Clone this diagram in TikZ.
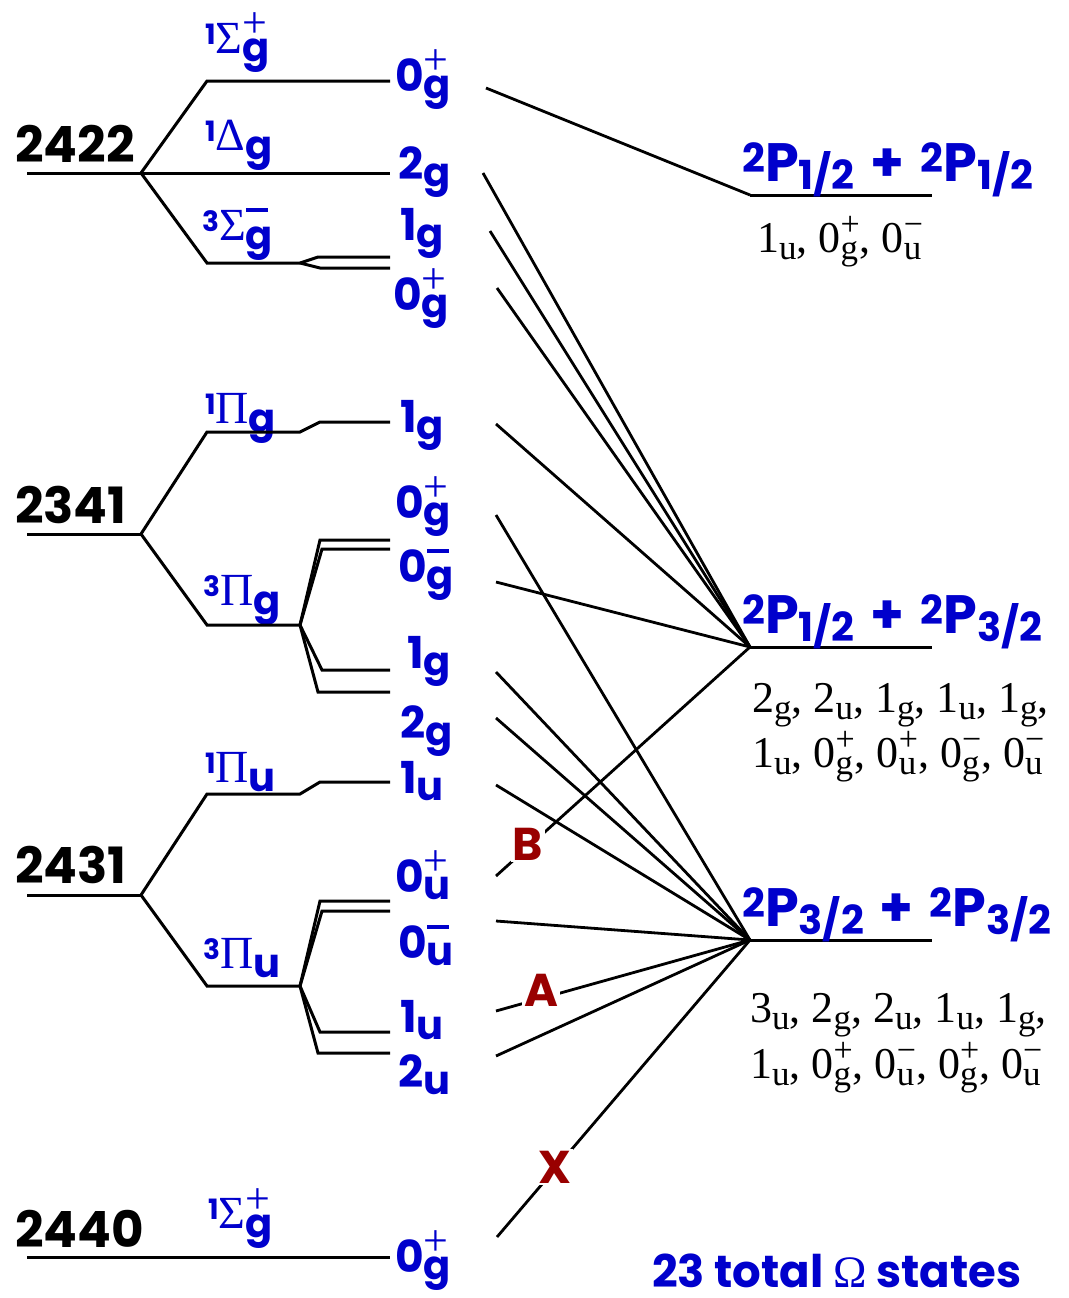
\documentclass[tikz,border=0pt]{standalone}
\usepackage{fontspec}
\setmainfont{Liberation Serif}
\newfontfamily\lbl{Poppins}
\definecolor{omblue}{RGB}{0,0,204}
\definecolor{tagred}{RGB}{153,0,0}

% stacked subscript/superscript: #1 sub, #2 sup, #3 sub drop, #4 sup raise
\newcommand\SbSp[4]{%
  \begingroup
  \setbox0=\hbox{\raisebox{-#3}{#1}}%
  \setbox2=\hbox{\raisebox{#4}{#2}}%
  \ifdim\wd0>\wd2 \dimen0=\wd0 \else \dimen0=\wd2 \fi
  \rlap{\copy0}\rlap{\copy2}\hskip\dimen0
  \endgroup}

% reflection signs for the blue labels
\newcommand\OmPlus{\raisebox{17pt}{\normalfont\fontsize{44}{44}\selectfont +}}
\newcommand\OmMinus{\raisebox{29pt}{\rule{22pt}{4.5pt}}}
\newcommand\TmPlus{\raisebox{15pt}{\normalfont\fontsize{44}{44}\selectfont +}}
\newcommand\TmMinus{\raisebox{28pt}{\rule{22pt}{4.5pt}}}
% Omega component: digit, parity, reflection sign
\newcommand\Om[3]{{\lbl\bfseries\fontsize{44}{48}\selectfont #1\SbSp{\fontsize{40}{40}\selectfont #2}{#3}{7pt}{0pt}}}
% molecular term: multiplicity, Greek symbol, parity, reflection sign
\newcommand\Term[4]{{\lbl\bfseries\fontsize{44}{48}\selectfont\raisebox{9pt}{\fontsize{28}{28}\selectfont #1}{\normalfont\fontsize{46}{46}\selectfont #2}\SbSp{\fontsize{40}{40}\selectfont #3}{#4}{9pt}{0pt}}}
% atomic fine-structure term 2P_j
\newcommand\Pst[1]{\raisebox{9pt}{\fontsize{40}{40}\selectfont 2}P\raisebox{-8pt}{\fontsize{40}{40}\selectfont #1}}
% serif list entries
\newcommand\LiPlus{\raisebox{17pt}{\fontsize{34}{34}\selectfont +}}
\newcommand\LiMinus{\raisebox{17pt}{\fontsize{34}{34}\selectfont −}}
\newcommand\Li[3]{#1\SbSp{\fontsize{35}{35}\selectfont #2}{#3}{7pt}{0pt}}

\tikzset{
  lvl/.style={line width=3pt},
  conn/.style={line width=2.8pt},
  num/.style={anchor=base west, inner sep=0pt, font=\lbl\bfseries\fontsize{50}{54}\selectfont},
  omlab/.style={anchor=base west, inner sep=0pt, text=omblue},
  plab/.style={anchor=base west, inner sep=0pt, text=omblue, font=\lbl\bfseries\fontsize{54}{58}\selectfont},
  lst/.style={anchor=base west, inner sep=0pt, font=\fontsize{44}{48}\selectfont},
  tag/.style={text=tagred, fill=white, inner sep=2pt, font=\lbl\bfseries\fontsize{46}{50}\selectfont},
}

\begin{document}
\begin{tikzpicture}[x=1pt,y=-1pt]
\useasboundingbox (0,0) rectangle (1068,1298);

% ---------- energy labels ----------
\node[num] (e2422) at (15,162) {2422};
\node[num] (e2341) at (15,523) {2341};
\node[num] (e2431) at (15,883) {2431};
\node[num] (e2440) at (15,1247) {2440};

% ---------- molecular terms ----------
\node[omlab] (t1) at (205,53)   {\Term{1}{Σ}{g}{\TmPlus}};
\node[omlab] (t2) at (205,150)  {\Term{1}{Δ}{g}{}};
\node[omlab] (t3) at (202,240)  {\Term{3}{Σ}{g}{\TmMinus}};
\node[omlab] (t4) at (205,423)  {\Term{1}{Π}{g}{}};
\node[omlab] (t5) at (203,605)  {\Term{3}{Π}{g}{}};
\node[omlab] (t6) at (205,782)  {\Term{1}{Π}{u}{}};
\node[omlab] (t7) at (203,968)  {\Term{3}{Π}{u}{}};
\node[omlab] (t8) at (208,1228) {\Term{1}{Σ}{g}{\TmPlus}};

% ---------- Omega components ----------
\node[omlab] (a1) at (395,91)   {\Om{0}{g}{\OmPlus}};
\node[omlab] (a2) at (398,179)  {\Om{2}{g}{}};
\node[omlab] (a3) at (400,240)  {\Om{1}{g}{}};
\node[omlab] (a4) at (393,310)  {\Om{0}{g}{\OmPlus}};
\node[omlab] (b1) at (400,432)  {\Om{1}{g}{}};
\node[omlab] (b2) at (395,518)  {\Om{0}{g}{\OmPlus}};
\node[omlab] (b3) at (398,582)  {\Om{0}{g}{\OmMinus}};
\node[omlab] (b4) at (407,668)  {\Om{1}{g}{}};
\node[omlab] (b5) at (400,738)  {\Om{2}{g}{}};
\node[omlab] (c1) at (400,793)  {\Om{1}{u}{}};
\node[omlab] (c2) at (395,892)  {\Om{0}{u}{\OmPlus}};
\node[omlab] (c3) at (398,958)  {\Om{0}{u}{\OmMinus}};
\node[omlab] (c4) at (400,1032) {\Om{1}{u}{}};
\node[omlab] (c5) at (398,1087) {\Om{2}{u}{}};
\node[omlab] (d1) at (395,1272) {\Om{0}{g}{\OmPlus}};

% ---------- correlation diagram branches ----------
% 2422
\draw[lvl] (27,173) -- (141,173);
\draw[lvl] (141,173) -- (207,81) -- (390,81);
\draw[lvl] (141,173) -- (390,173);
\draw[lvl] (141,173) -- (207,263) -- (300,263);
\draw[lvl] (300,263) -- (318,257) -- (390,257);
\draw[lvl] (300,263) -- (320,268) -- (390,268);
% 2341
\draw[lvl] (27,534) -- (141,534);
\draw[lvl] (141,534) -- (207,432) -- (300,432) -- (320,422) -- (390,422);
\draw[lvl] (141,534) -- (207,625) -- (300,625);
\draw[lvl] (300,625) -- (320,540) -- (390,540);
\draw[lvl] (300,625) -- (322,549) -- (390,549);
\draw[lvl] (300,625) -- (322,670) -- (390,670);
\draw[lvl] (300,625) -- (318,692) -- (390,692);
% 2431
\draw[lvl] (27,895) -- (141,895);
\draw[lvl] (141,895) -- (207,794) -- (300,794) -- (320,782) -- (390,782);
\draw[lvl] (141,895) -- (207,986) -- (300,986);
\draw[lvl] (300,986) -- (320,901) -- (390,901);
\draw[lvl] (300,986) -- (322,911) -- (390,911);
\draw[lvl] (300,986) -- (320,1032) -- (390,1032);
\draw[lvl] (300,986) -- (318,1053) -- (390,1053);
% 2440
\draw[lvl] (27,1257) -- (390,1257);

% ---------- atomic asymptotes ----------
\coordinate (L1) at (750,195);
\coordinate (L2) at (750,647);
\coordinate (L3) at (750,940);
\draw[lvl] (L1) -- (932,195);
\draw[lvl] (L2) -- (932,647);
\draw[lvl] (L3) -- (932,940);

\node[plab] (p1) at (742,181) {\Pst{1/2}\hspace{16pt}+\hspace{16pt}\Pst{1/2}};
\node[plab] (p2) at (742,633) {\Pst{1/2}\hspace{16pt}+\hspace{16pt}\Pst{3/2}};
\node[plab] (p3) at (742,926) {\Pst{3/2}\hspace{16pt}+\hspace{16pt}\Pst{3/2}};

\node[lst] (s1) at (757,252) {\Li{1}{u}{}, \Li{0}{g}{\LiPlus}, \Li{0}{u}{\LiMinus}};
\node[lst] (s2) at (752,712) {\Li{2}{g}{}, \Li{2}{u}{}, \Li{1}{g}{}, \Li{1}{u}{}, \Li{1}{g}{},};
\node[lst] (s3) at (752,767) {\Li{1}{u}{}, \Li{0}{g}{\LiPlus}, \Li{0}{u}{\LiPlus}, \Li{0}{g}{\LiMinus}, \Li{0}{u}{\LiMinus}};
\node[lst] (s4) at (750,1022) {\Li{3}{u}{}, \Li{2}{g}{}, \Li{2}{u}{}, \Li{1}{u}{}, \Li{1}{g}{},};
\node[lst] (s5) at (750,1078) {\Li{1}{u}{}, \Li{0}{g}{\LiPlus}, \Li{0}{u}{\LiMinus}, \Li{0}{g}{\LiPlus}, \Li{0}{u}{\LiMinus}};

% ---------- correlation lines ----------
\coordinate (sa1) at (486,88);
\coordinate (sa2) at (483,173);
\coordinate (sa3) at (490,231);
\coordinate (sa4) at (497,288);
\coordinate (sb1) at (496,424);
\coordinate (sb2) at (496,515);
\coordinate (sb3) at (496,582);
\coordinate (sb4) at (496,672);
\coordinate (sb5) at (496,718);
\coordinate (sc1) at (496,785);
\coordinate (sc2) at (496,876);
\coordinate (sc3) at (496,921);
\coordinate (sc4) at (496,1011);
\coordinate (sc5) at (496,1056);
\coordinate (sd1) at (497,1237);

\draw[conn] (sa1) -- (L1);
\foreach \s in {sa2,sa3,sa4,sb1,sb3,sc2} \draw[conn] (\s) -- (L2);
\foreach \s in {sb2,sb4,sb5,sc1,sc3,sc4,sc5,sd1} \draw[conn] (\s) -- (L3);

\node[tag] (tB) at (528,844) {B};
\node[tag] (tA) at (541,990) {A};
\node[tag] (tX) at (555,1167) {X};

\node[anchor=base west, inner sep=0pt, text=omblue, font=\lbl\bfseries\fontsize{45}{48}\selectfont] (tot) at (652,1287) {23 total {\normalfont Ω} states};
\end{tikzpicture}
\end{document}
